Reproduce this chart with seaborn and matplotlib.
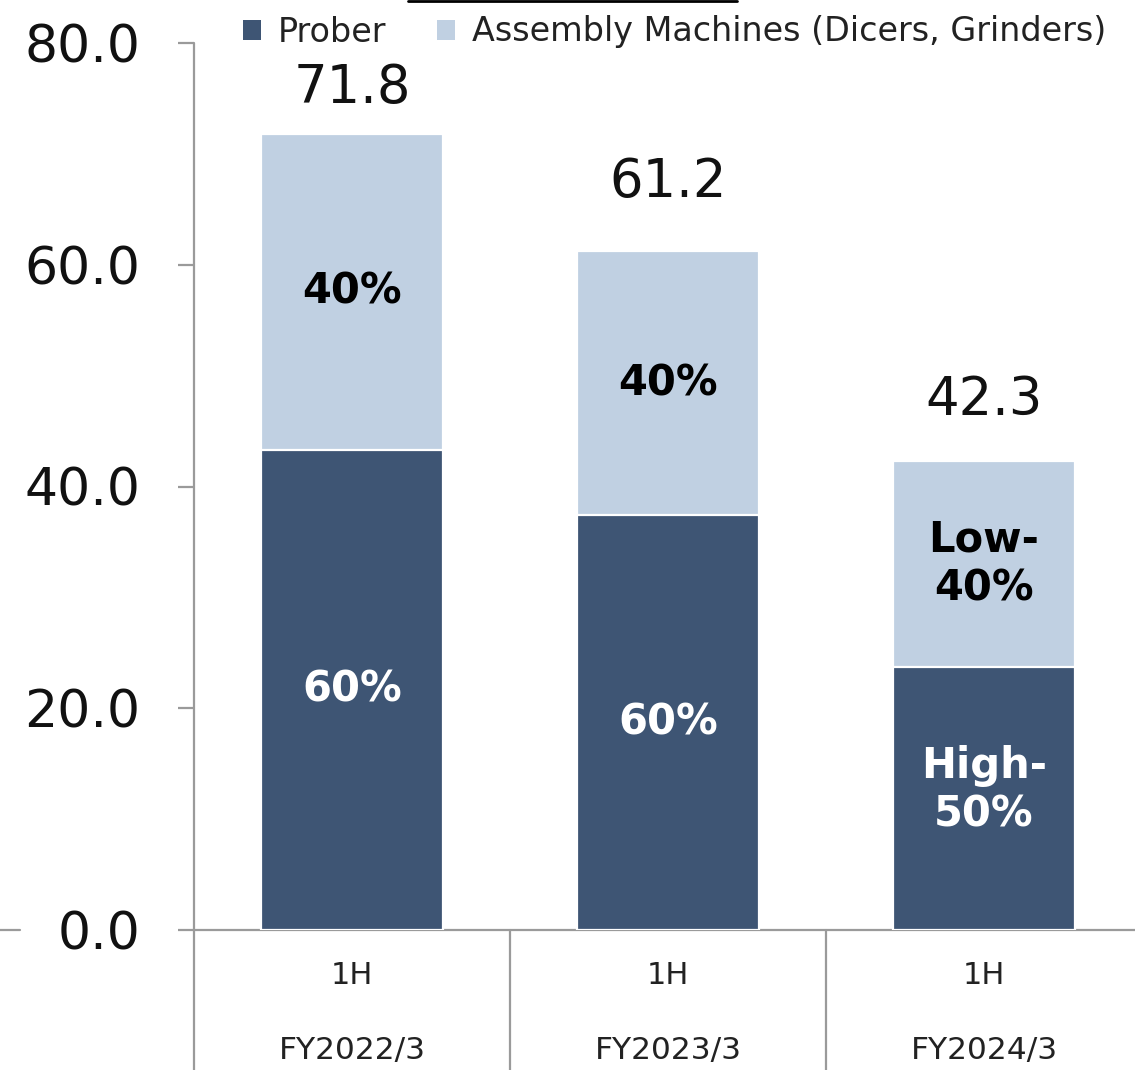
import matplotlib
matplotlib.use("Agg")
import matplotlib.pyplot as plt
import matplotlib.transforms as mtransforms
from matplotlib.patches import Patch
from matplotlib.lines import Line2D
import seaborn as sns
import pandas as pd

# ---- data ----
fiscal_years = ["FY2022/3", "FY2023/3", "FY2024/3"]
halves = ["1H", "1H", "1H"]
totals = [71.8, 61.2, 42.3]
prober = [43.3, 37.4, 23.7]
assembly = [28.5, 23.8, 18.6]
prober_share = ["60%", "60%", "High-\n50%"]
assembly_share = ["40%", "40%", "Low-\n40%"]
series_names = ["Prober", "Assembly Machines (Dicers, Grinders)"]
yticks = [0, 20, 40, 60, 80]

DARK = "#3E5574"
LIGHT = "#C0D0E2"
GRID = "#9A9A9A"

sns.set_theme(style="white")
plt.rcParams["font.family"] = ["DejaVu Sans"]

W, H = 1135, 1070
fig = plt.figure(figsize=(W / 100, H / 100), dpi=100)
ax = fig.add_axes([194 / W, 140 / H, 948 / W, 887 / H])

df = pd.DataFrame({"fy": fiscal_years, "total": totals, "prober": prober})

sns.barplot(data=df, x="fy", y="total", color=LIGHT, saturation=1, width=0.576,
            edgecolor="white", linewidth=1.6, ax=ax, zorder=2)
sns.barplot(data=df, x="fy", y="prober", color=DARK, saturation=1, width=0.576,
            edgecolor="white", linewidth=1.6, ax=ax, zorder=3)

ax.set_xlim(-0.5, 2.5)
ax.set_ylim(0, 80)
ax.set_xlabel("")
ax.set_ylabel("")

# axes styling
for s in ["top", "right", "left"]:
    ax.spines[s].set_visible(False)
ax.spines["bottom"].set_color(GRID)
ax.spines["bottom"].set_linewidth(1.6)

ax.set_yticks(yticks)
ax.set_yticklabels([f"{v:.1f}" for v in yticks], fontsize=37.5, color="#111111")
ax.tick_params(axis="y", length=11.5, width=1.6, color=GRID, pad=27, left=True)
ax.set_xticks(range(len(halves)))
ax.set_xticklabels(halves, fontsize=22, color="#222222")
ax.tick_params(axis="x", length=0, pad=22)

trans = mtransforms.blended_transform_factory(ax.transData, ax.transAxes)
ybot = -140 / 887
# left spine extending below the axis and category separators
ax.add_line(Line2D([-0.5, -0.5], [1, ybot], transform=trans, color=GRID, lw=1.6, clip_on=False))
for xs in [0.5, 1.5]:
    ax.add_line(Line2D([xs, xs], [0, ybot], transform=trans, color=GRID, lw=1.6, clip_on=False))

for i, fy in enumerate(fiscal_years):
    ax.text(i, -120 / 887, fy, transform=trans, ha="center", va="center",
            fontsize=22.5, color="#222222")

# total labels above bars
total_offsets = [33, 50, 44]
for i, t in enumerate(totals):
    ax.annotate(f"{t:.1f}", (i, t), xytext=(0, total_offsets[i]), textcoords="offset points",
                ha="center", va="center", fontsize=38, color="#111111")

# share labels inside segments
for i in range(len(fiscal_years)):
    ax.annotate(prober_share[i], (i, prober[i] / 2), xytext=(0, 6 if "\n" in prober_share[i] else 0),
                textcoords="offset points", ha="center", va="center",
                fontsize=30, fontweight="bold", color="white", zorder=5, linespacing=1.2)
    ax.text(i, prober[i] + (totals[i] - prober[i]) / 2, assembly_share[i], ha="center",
            va="center", fontsize=30, fontweight="bold", color="black", zorder=5,
            linespacing=1.2)

# legend
handles = [Patch(facecolor=DARK, edgecolor="none"), Patch(facecolor=LIGHT, edgecolor="none")]
fig.legend(handles, series_names, ncol=2, loc="center left",
           bbox_to_anchor=(243 / W, 1 - 32 / H), frameon=False, fontsize=24,
           handlelength=0.55, handleheight=0.55, handletextpad=0.5, columnspacing=1.5,
           borderaxespad=0, borderpad=0, labelcolor="#222222")

# fragments at the edges of the original
fig.add_artist(Line2D([408 / W, 737 / W], [1 - 1 / H, 1 - 1 / H], transform=fig.transFigure,
                      color="black", lw=2))
fig.add_artist(Line2D([0, 20 / W], [140 / H, 140 / H], transform=fig.transFigure,
                      color=GRID, lw=1.6))

fig.savefig("out.png", dpi=100)
